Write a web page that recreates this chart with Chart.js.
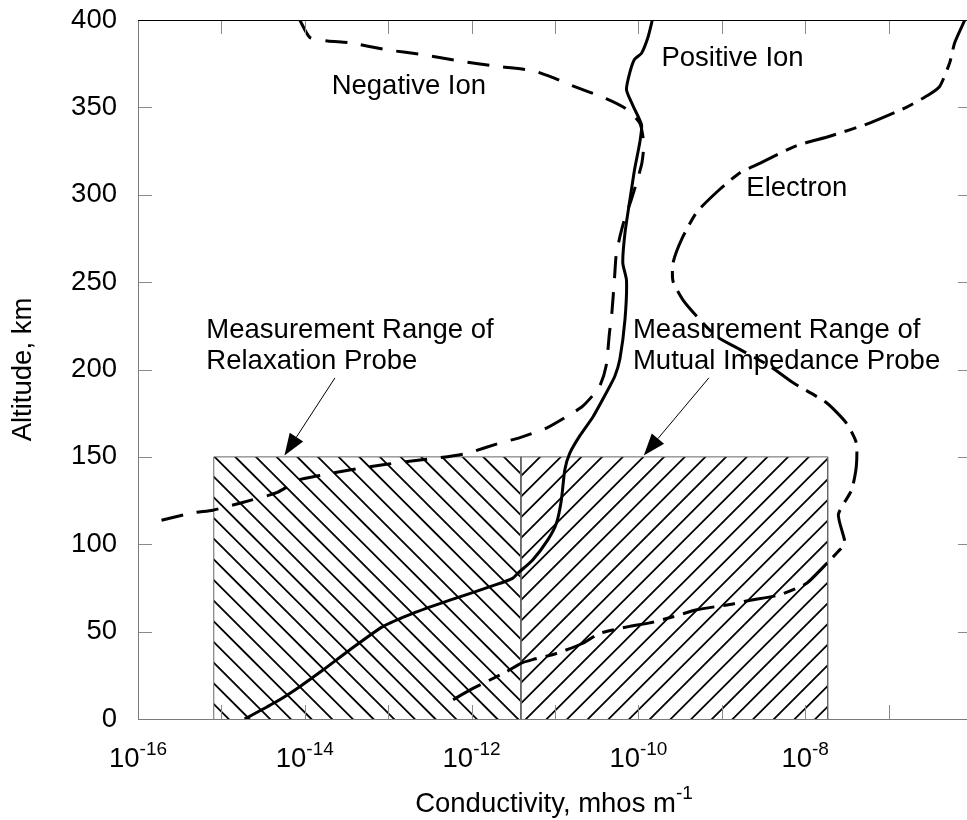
<!DOCTYPE html>
<html>
<head>
<meta charset="utf-8">
<script src="https://cdn.jsdelivr.net/npm/chart.js@4.4.0/dist/chart.umd.min.js"></script>
<style>
    body { margin: 0; background: #fff; overflow: hidden; }
    #moldura { width: 967px; height: 820px; overflow: hidden; }
</style>
</head>
<body>
<div id="moldura"><canvas id="grafico" width="974" height="820"></canvas></div>
<script>
// eixos
const condMin = 1e-16;
const condMax = 1e-6;
const altMin = 0;
const altMax = 400;
const altStep = 50;
const xTickPowers = [-15, -14, -13, -12, -11, -10, -9, -8, -7];
const xLabelPowers = [-16, -14, -12, -10, -8];

// ion positivo (linha cheia)
const positiveIonAlt = [400, 390, 381, 377.5, 370, 360, 351, 340, 330, 314.5, 297, 278, 261, 251, 228.5, 206, 196, 186.5, 173, 162, 152, 142.5, 125, 112, 102.5, 91, 83.5, 80.5, 77, 68, 60.5, 53, 39.5, 28, 18.5, 10, 0];
const positiveIonCond = [1.47e-10, 1.3e-10, 1.09e-10, 9.0e-11, 7.9e-11, 7.2e-11, 8.6e-11, 1.09e-10, 1.04e-10, 9.0e-11, 7.9e-11, 6.9e-11, 6.5e-11, 7.2e-11, 6.9e-11, 6.0e-11, 5.2e-11, 4.1e-11, 2.86e-11, 1.98e-11, 1.5e-11, 1.31e-11, 1.19e-11, 1.04e-11, 8.2e-12, 5.4e-12, 3.6e-12, 3.1e-12, 2.0e-12, 5.5e-13, 1.98e-13, 8.7e-14, 3.45e-14, 1.65e-14, 8.7e-15, 4.6e-15, 1.9e-15];

// ion negativo (tracejado)
const negativeIonAlt = [400, 390, 388, 387, 383, 380, 376.5, 373.5, 371, 367, 363, 355, 349, 341, 329, 318, 307, 297, 287, 276, 265, 254, 232, 221, 202, 190, 179, 173, 166.5, 161, 158, 152, 149.5, 147.5, 145.5, 142.5, 139, 137, 129.5, 123.5, 119.5, 118, 113];
const negativeIonCond = [8.7e-15, 1.15e-14, 1.88e-14, 3.45e-14, 9.5e-14, 2.74e-13, 7.2e-13, 1.98e-12, 5.4e-12, 9.5e-12, 1.5e-11, 4.1e-11, 7.2e-11, 1.04e-10, 1.16e-10, 1.1e-10, 9.5e-11, 8.2e-11, 6.9e-11, 6.0e-11, 5.4e-11, 5.2e-11, 4.8e-11, 4.5e-11, 4.1e-11, 3.4e-11, 2.15e-11, 1.37e-11, 7.9e-12, 3.8e-12, 2.2e-12, 8.7e-13, 4.1e-13, 1.8e-13, 8.7e-14, 3.45e-14, 1.38e-14, 8.7e-15, 4.6e-15, 1.66e-15, 7.9e-16, 4.6e-16, 1.66e-16];

// eletron (traco-ponto)
const electronAlt = [400, 387, 375.5, 362, 357.5, 350, 341, 333.5, 328, 318, 312.5, 303, 290, 274.5, 261, 250.5, 240, 230.5, 219, 211.5, 202, 192.5, 181, 169.5, 158, 144.5, 131, 117, 100.5, 96, 90, 77.5, 71, 68, 65.5, 62.5, 58.5, 55, 53, 49, 43.5, 37.5, 34, 32, 27, 16.5, 11];
const electronCond = [8.2e-7, 6.2e-7, 5.4e-7, 4.1e-7, 3.1e-7, 1.63e-7, 5.9e-8, 1.97e-8, 7.8e-9, 2.85e-9, 1.64e-9, 9.4e-10, 5.0e-10, 3.3e-10, 2.6e-10, 2.6e-10, 3.4e-10, 5.0e-10, 8.6e-10, 1.64e-9, 3.75e-9, 7.1e-9, 1.8e-8, 3.1e-8, 4.1e-8, 4.1e-8, 3.6e-8, 2.5e-8, 3.0e-8, 2.5e-8, 1.9e-8, 1.03e-8, 4.9e-9, 2.2e-9, 1.24e-9, 5.0e-10, 2.6e-10, 1.37e-10, 7.9e-11, 3.4e-11, 2.2e-11, 1.04e-11, 5.4e-12, 3.95e-12, 2.6e-12, 9.5e-13, 6.0e-13];

// faixas de medicao (hachuradas)
const rangeTop = 150;
const relaxationRange = [8.1e-16, 3.9e-12];
const mutualRange = [3.9e-12, 1.86e-8];

// textos
const labelTexts = [
    ['Negative Ion'],
    ['Positive Ion'],
    ['Electron'],
    ['Measurement Range of', 'Relaxation Probe'],
    ['Measurement Range of', 'Mutual Impedance Probe']
];
const labelCond = [2.1e-14, 1.89e-10, 1.97e-9, 6.6e-16, 8.6e-11];
const labelAlt = [357.4, 373.6, 299.2, 218, 218];

const arrowFromCond = [2.3e-14, 7.0e-10];
const arrowFromAlt = [195.2, 195.2];
const arrowToCond = [5.7e-15, 1.16e-10];
const arrowToAlt = [150.8, 150.8];

const FONTE = '"Liberation Sans", Arial, sans-serif';

function pontos(conds, alts) {
    return conds.map((c, i) => ({ x: c, y: alts[i] }));
}

function retangulo(faixa) {
    return [
        { x: faixa[0], y: 0 },
        { x: faixa[0], y: rangeTop },
        { x: faixa[1], y: rangeTop },
        { x: faixa[1], y: 0 }
    ];
}

// padrao de hachura: linhas a 45 graus, passo de 20.67 px
function criarHachura(direcao, fase) {
    const tile = 62;
    const passo = tile / 3;
    const c = document.createElement('canvas');
    c.width = tile;
    c.height = tile;
    const g = c.getContext('2d');
    g.strokeStyle = '#000';
    g.lineWidth = 1.8;
    g.beginPath();
    for (let k = -6; k <= 10; k++) {
        const t = fase + k * passo;
        if (direcao === '/') {
            g.moveTo(t + 10, -10);
            g.lineTo(t - tile - 10, tile + 10);
        } else {
            g.moveTo(t - 10, -10);
            g.lineTo(t + tile + 10, tile + 10);
        }
    }
    g.stroke();
    return g.createPattern(c, 'repeat');
}

const textPlugin = {
    id: 'textos',
    afterDatasetsDraw(chart) {
        const { ctx, chartArea: a, scales: { x, y } } = chart;
        ctx.save();

        // marcas dos eixos, para dentro
        ctx.strokeStyle = '#8a8a8a';
        ctx.lineWidth = 1;
        ctx.beginPath();
        xTickPowers.forEach(p => {
            const px = Math.round(x.getPixelForValue(Math.pow(10, p))) + 0.5;
            ctx.moveTo(px, a.top);
            ctx.lineTo(px, a.top + 14);
            ctx.moveTo(px, a.bottom);
            ctx.lineTo(px, a.bottom - 14);
        });
        for (let v = altMin + altStep; v < altMax; v += altStep) {
            const py = Math.round(y.getPixelForValue(v)) + 0.5;
            ctx.moveTo(a.left, py);
            ctx.lineTo(a.left + 14, py);
            ctx.moveTo(a.right, py);
            ctx.lineTo(a.right - 14, py);
        }
        ctx.stroke();

        // moldura
        ctx.strokeStyle = '#7a7a7a';
        ctx.beginPath();
        ctx.moveTo(Math.round(a.left) + 0.5, a.top);
        ctx.lineTo(Math.round(a.left) + 0.5, a.bottom);
        ctx.moveTo(a.left, Math.round(a.bottom) + 0.5);
        ctx.lineTo(a.right, Math.round(a.bottom) + 0.5);
        ctx.stroke();
        ctx.strokeStyle = '#000';
        ctx.beginPath();
        ctx.moveTo(a.left, Math.round(a.top) + 0.5);
        ctx.lineTo(a.right, Math.round(a.top) + 0.5);
        ctx.moveTo(Math.round(a.right) - 0.5, a.top);
        ctx.lineTo(Math.round(a.right) - 0.5, a.bottom);
        ctx.stroke();

        // rotulos do eixo x com expoente
        ctx.fillStyle = '#000';
        ctx.textBaseline = 'alphabetic';
        ctx.textAlign = 'left';
        xLabelPowers.forEach(p => {
            const px = x.getPixelForValue(Math.pow(10, p));
            ctx.font = '27.5px ' + FONTE;
            const w1 = ctx.measureText('10').width;
            ctx.font = '19px ' + FONTE;
            const w2 = ctx.measureText(String(p)).width;
            const x0 = px - (w1 + w2) / 2;
            ctx.font = '27.5px ' + FONTE;
            ctx.fillText('10', x0, a.bottom + 48);
            ctx.font = '19px ' + FONTE;
            ctx.fillText(String(p), x0 + w1, a.bottom + 36);
        });

        // titulo do eixo x
        const titulo = 'Conductivity, mhos m';
        ctx.font = '27.5px ' + FONTE;
        const wt = ctx.measureText(titulo).width;
        ctx.font = '19px ' + FONTE;
        const we = ctx.measureText('-1').width;
        const xt = (a.left + 966) / 2 - (wt + we) / 2 + 2;
        ctx.font = '27.5px ' + FONTE;
        ctx.fillText(titulo, xt, a.bottom + 92.5);
        ctx.font = '19px ' + FONTE;
        ctx.fillText('-1', xt + wt, a.bottom + 80);

        // textos das curvas e das faixas
        ctx.font = '27.5px ' + FONTE;
        labelTexts.forEach((linhas, i) => {
            const px = x.getPixelForValue(labelCond[i]);
            const py = y.getPixelForValue(labelAlt[i]);
            linhas.forEach((t, j) => ctx.fillText(t, px, py + j * 31));
        });

        // setas
        ctx.strokeStyle = '#000';
        ctx.fillStyle = '#000';
        ctx.lineWidth = 1;
        arrowFromCond.forEach((c, i) => {
            const x1 = x.getPixelForValue(c);
            const y1 = y.getPixelForValue(arrowFromAlt[i]);
            const x2 = x.getPixelForValue(arrowToCond[i]);
            const y2 = y.getPixelForValue(arrowToAlt[i]);
            const ang = Math.atan2(y2 - y1, x2 - x1);
            const comp = 22;
            const larg = 8;
            const bx = x2 - comp * Math.cos(ang);
            const by = y2 - comp * Math.sin(ang);
            ctx.beginPath();
            ctx.moveTo(x1, y1);
            ctx.lineTo(bx, by);
            ctx.stroke();
            ctx.beginPath();
            ctx.moveTo(x2, y2);
            ctx.lineTo(bx + larg * Math.sin(ang), by - larg * Math.cos(ang));
            ctx.lineTo(bx - larg * Math.sin(ang), by + larg * Math.cos(ang));
            ctx.closePath();
            ctx.fill();
        });

        ctx.restore();
    }
};

Chart.defaults.font.family = FONTE;

const ctx = document.getElementById('grafico').getContext('2d');

new Chart(ctx, {
    type: 'line',
    data: {
        datasets: [
            {
                label: 'Positive Ion',
                data: pontos(positiveIonCond, positiveIonAlt),
                borderColor: '#000',
                borderWidth: 3,
                pointRadius: 0,
                tension: 0.2,
                fill: false,
                order: 0
            },
            {
                label: 'Negative Ion',
                data: pontos(negativeIonCond, negativeIonAlt),
                borderColor: '#000',
                borderWidth: 3,
                borderDash: [22, 14],
                pointRadius: 0,
                tension: 0.2,
                fill: false,
                order: 0
            },
            {
                label: 'Electron',
                data: pontos(electronCond, electronAlt),
                borderColor: '#000',
                borderWidth: 3,
                borderDash: [32, 9, 12, 9],
                pointRadius: 0,
                tension: 0.2,
                fill: false,
                order: 0
            },
            {
                label: 'Relaxation Probe',
                data: retangulo(relaxationRange),
                borderColor: '#666',
                borderWidth: 1,
                backgroundColor: criarHachura('\\', 5.7),
                pointRadius: 0,
                tension: 0,
                fill: 'origin',
                order: 1
            },
            {
                label: 'Mutual Impedance Probe',
                data: retangulo(mutualRange),
                borderColor: '#666',
                borderWidth: 1,
                backgroundColor: criarHachura('/', 5.0),
                pointRadius: 0,
                tension: 0,
                fill: 'origin',
                order: 1
            }
        ]
    },
    options: {
        responsive: false,
        animation: false,
        layout: {
            padding: { top: 20, right: 2, left: 0, bottom: 0 }
        },
        scales: {
            x: {
                type: 'logarithmic',
                min: condMin,
                max: condMax,
                grid: { display: false },
                border: { display: false },
                ticks: { display: false },
                afterFit: (scale) => {
                    scale.height = 101;
                    scale.paddingLeft = 0;
                    scale.paddingRight = 0;
                }
            },
            y: {
                type: 'linear',
                min: altMin,
                max: altMax,
                grid: { display: false, drawTicks: false },
                border: { display: false },
                ticks: {
                    stepSize: altStep,
                    color: '#000',
                    padding: 21,
                    font: { size: 27.5 }
                },
                title: {
                    display: true,
                    text: 'Altitude, km',
                    color: '#000',
                    font: { size: 27.5 },
                    padding: { top: 7, bottom: 0 }
                },
                afterFit: (scale) => {
                    scale.width = 138;
                    scale.paddingTop = 0;
                    scale.paddingBottom = 0;
                }
            }
        },
        plugins: {
            legend: { display: false },
            tooltip: { enabled: false }
        }
    },
    plugins: [textPlugin]
});
</script>
</body>
</html>
